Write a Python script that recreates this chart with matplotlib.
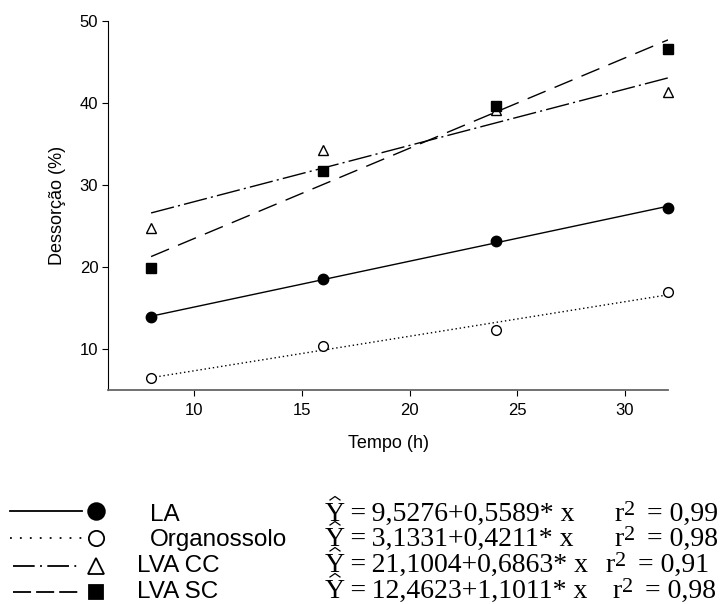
import matplotlib
matplotlib.use('Agg')
import matplotlib.pyplot as plt
import numpy as np
from matplotlib.lines import Line2D

plt.rcParams['font.family'] = ['Liberation Sans', 'DejaVu Sans']

# Measured desorption (%) at each time (h)
tempo = [8, 16, 24, 32]
la = [13.9, 18.5, 23.2, 27.2]
organossolo = [6.5, 10.4, 12.3, 17.0]
lva_cc = [24.8, 34.3, 39.1, 41.3]
lva_sc = [19.9, 31.7, 39.6, 46.6]

labels = ['LA', 'Organossolo', 'LVA CC', 'LVA SC']
intercepts = [9.5276, 3.1331, 21.1004, 12.4623]
slopes = [0.5589, 0.4211, 0.6863, 1.1011]
r2 = [0.99, 0.98, 0.91, 0.98]

series = [la, organossolo, lva_cc, lva_sc]
styles = [
    dict(ls='-', marker='o', mfc='black', ms=7.5),
    dict(ls=(0, (1, 2)), marker='o', mfc='white', ms=7),
    dict(ls=(0, (17, 3, 1.5, 3)), marker='^', mfc='white', ms=7.5),
    dict(ls=(0, (14, 7)), marker='s', mfc='black', ms=6.5),
]

fig = plt.figure(figsize=(7.25, 6.04), dpi=100)
ax = fig.add_axes([108 / 725, 1 - 390 / 604, 560 / 725, 369 / 604])

xfit = np.array([tempo[0], tempo[-1]])
for vals, a, b, st in zip(series, intercepts, slopes, styles):
    ax.plot(xfit, a + b * xfit, color='black', lw=1, ls=st['ls'])
    ax.plot(tempo, vals, ls='none', marker=st['marker'], mfc=st['mfc'],
            mec='black', mew=1, ms=st['ms'], clip_on=False)

ax.set_xlim(6, 32)
ax.set_ylim(5, 50)
ax.set_xticks([10, 15, 20, 25, 30])
ax.set_yticks([10, 20, 30, 40, 50])
ax.spines['top'].set_visible(False)
ax.spines['right'].set_visible(False)
ax.spines['bottom'].set_color('#666666')
ax.spines['bottom'].set_linewidth(1.3)
ax.tick_params(direction='out', length=4.5, labelsize=12)
ax.tick_params(axis='y', pad=2.5)
ax.tick_params(axis='x', pad=5)
ax.set_xlabel('Tempo (h)', fontsize=13, labelpad=12)
ax.set_ylabel('Dessorção (%)', fontsize=13, labelpad=10)

# legend block drawn in pixel coordinates
lg = fig.add_axes([0, 0, 1, 1], zorder=-1)
lg.set_xlim(0, 725)
lg.set_ylim(604, 0)
lg.axis('off')

legend_styles = [
    dict(ls='-', marker='o', mfc='black', ms=12, x0=10, x1=82),
    dict(ls=(0, (1, 4.5)), marker='o', mfc='white', ms=11, x0=10, x1=82),
    dict(ls=(0, (12, 3, 1, 3)), marker='^', mfc='white', ms=11, x0=13, x1=79),
    dict(ls=(0, (10, 2.8)), marker='s', mfc='black', ms=10, x0=13, x1=82),
]
centers = [511, 538, 566, 592]
baselines = [521, 546, 572, 598]
label_x = [150, 150, 137, 137]
r2_x = [614, 614, 605, 612]
serif = ['Liberation Serif', 'DejaVu Serif']
thin = '\u2009'
for i, st in enumerate(legend_styles):
    yc = centers[i]
    yb = baselines[i]
    lg.add_line(Line2D([st['x0'], st['x1']], [yc, yc], color='black', lw=1.3,
                       ls=st['ls']))
    lg.plot([96], [yc], marker=st['marker'], mfc=st['mfc'], mec='black',
            mew=1.3, ms=st['ms'])
    lg.text(label_x[i], yb, labels[i], fontsize=17.5, va='baseline', ha='left')
    eq = 'Y' + thin + '=' + thin + f'{intercepts[i]:.4f}'.replace('.', ',') + \
        '+' + f'{slopes[i]:.4f}'.replace('.', ',') + '* x'
    lg.text(325, yb, eq, fontsize=20, va='baseline', ha='left', family=serif)
    # circumflex over the Y
    lg.add_line(Line2D([330, 335, 340], [yb - 21, yb - 24.5, yb - 21],
                       color='black', lw=0.9))
    x0 = r2_x[i]
    lg.text(x0, yb, 'r', fontsize=20, va='baseline', ha='left', family=serif)
    lg.text(x0 + 10, yb - 6, '2', fontsize=16, va='baseline', ha='left',
            family=serif)
    lg.text(x0 + 33, yb, '= ' + f'{r2[i]:.2f}'.replace('.', ','), fontsize=20,
            va='baseline', ha='left', family=serif)

fig.savefig('out.png', dpi=100)
